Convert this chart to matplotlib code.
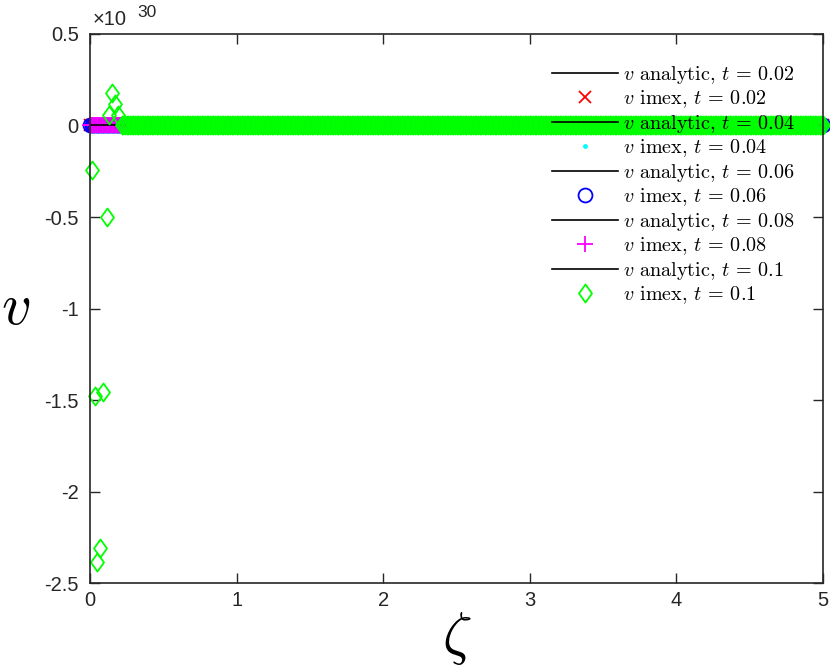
import numpy as np
import matplotlib
matplotlib.use('Agg')
import matplotlib.pyplot as plt
from matplotlib.path import Path
from matplotlib.ticker import FuncFormatter

plt.rcParams['mathtext.fontset'] = 'cm'
plt.rcParams['font.family'] = ['Liberation Sans', 'DejaVu Sans']
plt.rcParams['axes.unicode_minus'] = False

SCALE = 1e30

# spatial grid and times
zeta = np.linspace(0, 5, 441)
times = ['0.02', '0.04', '0.06', '0.08', '0.1']

# at the 1e30 scale the analytic curves and early imex runs are all ~0
v_analytic = np.zeros_like(zeta)
v_imex_early = np.zeros_like(zeta)

# t = 0.1 imex: blow-up near zeta = 0, then ~0 on the rest of the grid
zeta_blow = [0.012, 0.034, 0.046, 0.068, 0.091, 0.114, 0.132, 0.148, 0.171, 0.189]
v_blow = [-0.245, -1.476, -2.385, -2.31, -1.458, -0.50, 0.06, 0.175, 0.115, 0.06]
zeta_flat = zeta[zeta >= 0.205]
v_flat = np.zeros_like(zeta_flat)

diamond = Path([(-0.36, 0), (0, 0.5), (0.36, 0), (0, -0.5), (-0.36, 0)],
               [Path.MOVETO, Path.LINETO, Path.LINETO, Path.LINETO, Path.CLOSEPOLY])

imex_styles = [
    dict(marker='x', color='red', ms=9, mew=1.3),
    dict(marker='.', color='cyan', ms=5, mew=1),
    dict(marker='o', color='blue', ms=10, mew=1.3, mfc='none'),
    dict(marker='+', color='magenta', ms=11, mew=1.3),
]

fig = plt.figure(figsize=(8.3, 6.69), dpi=100)
ax = fig.add_axes([0.1084, 0.1285, 0.8832, 0.8207])

for i, t in enumerate(times):
    ax.plot(zeta, v_analytic * SCALE, color='black', lw=1.2,
            label=r'$v$ analytic, $t$ = %s' % t)
    if i < 4:
        st = imex_styles[i]
        ax.plot(zeta, v_imex_early * SCALE, ls='none', marker=st['marker'],
                color=st['color'], ms=st['ms'], mew=st['mew'],
                mfc=st.get('mfc', st['color']), clip_on=False,
                label=r'$v$ imex, $t$ = %s' % t)
    else:
        zz = np.concatenate([zeta_blow, zeta_flat])
        vv = np.concatenate([v_blow, v_flat])
        ax.plot(zz, vv * SCALE, ls='none', marker=diamond, color=(0, 1, 0),
                ms=13, mew=1.3, mfc='none', clip_on=False,
                label=r'$v$ imex, $t$ = %s' % t)

ax.set_xlim(0, 5)
ax.set_ylim(-2.5 * SCALE, 0.5 * SCALE)
ax.set_xticks([0, 1, 2, 3, 4, 5])
ax.set_yticks(np.arange(-2.5, 0.51, 0.5) * SCALE)
ax.yaxis.set_major_formatter(FuncFormatter(lambda v, p: '%g' % round(v / SCALE, 3)))
ax.yaxis.get_offset_text().set_visible(False)
ax.tick_params(direction='in', length=7, width=1, top=True, right=True,
               labelsize=14.5, colors='#262626', pad=6)
ax.tick_params(axis='y', pad=8)
for s in ax.spines.values():
    s.set_color('#262626')
    s.set_linewidth(1.2)

ax.text(0.004, 1.016, '×10', transform=ax.transAxes, fontsize=14.5,
        color='#262626', ha='left', va='baseline')
ax.text(0.064, 1.031, '30', transform=ax.transAxes, fontsize=12.5,
        color='#262626', ha='left', va='baseline')

ax.set_xlabel(r'$\zeta$', fontsize=42, va='top')
ax.xaxis.set_label_coords(0.5, -0.05)
ax.set_ylabel(r'$v$', fontsize=42, rotation=0, va='center', ha='center')
ax.yaxis.set_label_coords(-0.102, 0.5)

leg = ax.legend(loc='upper right', bbox_to_anchor=(0.962, 0.9455), frameon=False,
                prop={'family': 'cmr10', 'size': 14.5}, handlelength=3.3,
                handletextpad=0.25, labelspacing=0.13, borderaxespad=0,
                borderpad=0)

fig.savefig('out.png', dpi=100)
